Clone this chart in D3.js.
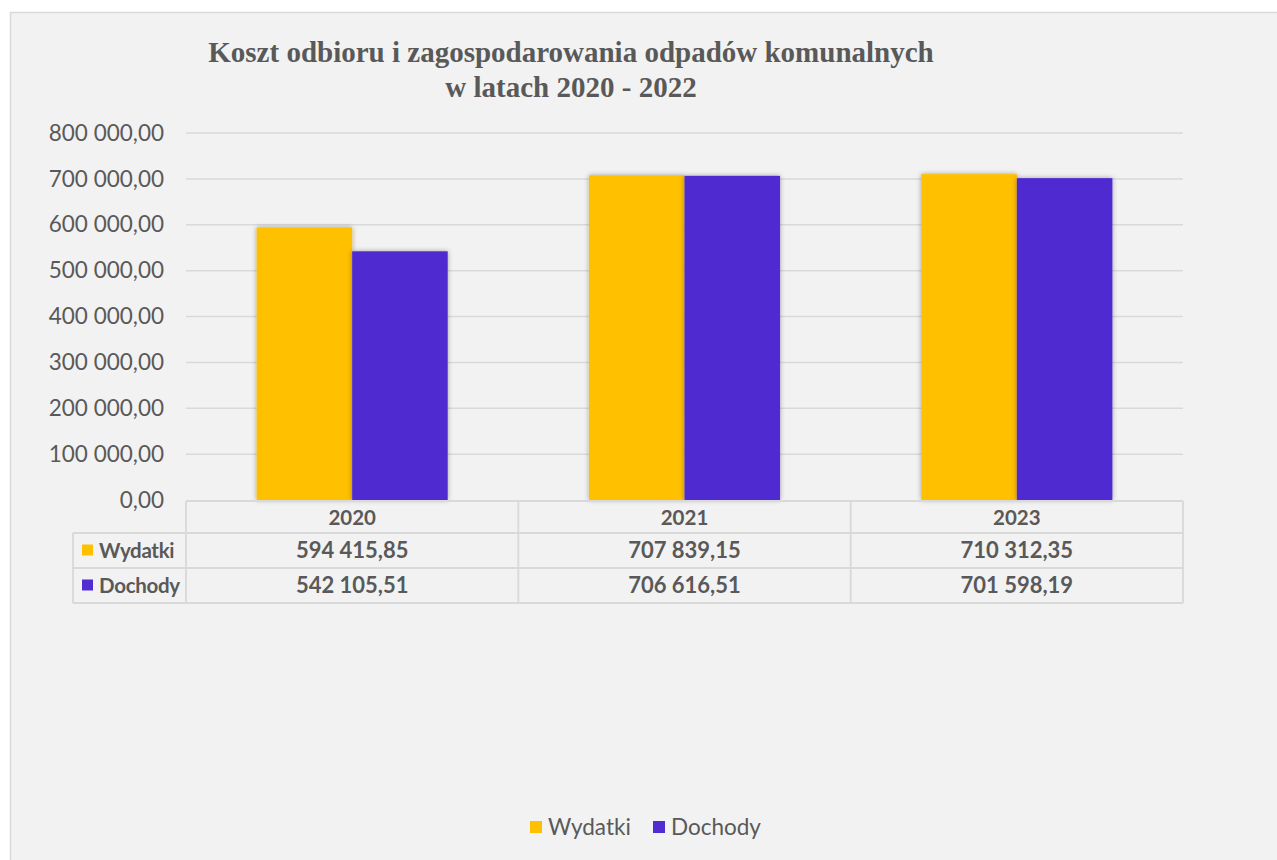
<!DOCTYPE html>
<html>
<head>
<meta charset="utf-8">
<script src="https://cdn.jsdelivr.net/npm/d3@7"></script>
<style>
  body { margin: 0; background: #ffffff; }
  svg { display: block; }
</style>
</head>
<body>
<script>
// chart data
const years = ["2020", "2021", "2023"];
const seriesNames = ["Wydatki", "Dochody"];
const wydatki = [594415.85, 707839.15, 710312.35];
const dochody = [542105.51, 706616.51, 701598.19];
const yTicks = [0, 100000, 200000, 300000, 400000, 500000, 600000, 700000, 800000];
const titleLines = ["Koszt odbioru i zagospodarowania odpadów komunalnych", "w latach 2020 - 2022"];

const colors = { "Wydatki": "#FFC000", "Dochody": "#502CD1" };
const textColor = "#595959";
const gridColor = "#D9D9D9";
const sansFont = "'Lato', 'Open Sans', sans-serif";

const W = 1277, H = 860;
const plot = { left: 186, right: 1183, top: 133, bottom: 500 };

// polish number format: space thousands, comma decimals
const pl = d3.formatLocale({ decimal: ",", thousands: " ", grouping: [3], currency: ["", " zł"] });
const fmt = pl.format(",.2f");

const svg = d3.select("body").append("svg")
    .attr("width", W)
    .attr("height", H);

// drop shadow for bars
const defs = svg.append("defs");
const filt = defs.append("filter").attr("id", "shadow")
    .attr("x", "-20%").attr("y", "-20%").attr("width", "140%").attr("height", "140%");
filt.append("feDropShadow")
    .attr("dx", 0).attr("dy", 0).attr("stdDeviation", 2.5)
    .attr("flood-color", "#000").attr("flood-opacity", 0.35);

// chart area background and frame
svg.append("rect")
    .attr("x", 10.5).attr("y", 12.5)
    .attr("width", W + 10).attr("height", H + 10)
    .attr("fill", "#F2F2F2")
    .attr("stroke", gridColor)
    .attr("stroke-width", 1.5);

// title
svg.append("g").selectAll("text")
    .data(titleLines)
    .join("text")
    .attr("x", 571)
    .attr("y", (d, i) => 62 + i * 35)
    .attr("text-anchor", "middle")
    .attr("font-family", "'Liberation Serif', 'Times New Roman', serif")
    .attr("font-weight", "bold")
    .attr("font-size", 29)
    .attr("fill", textColor)
    .text(d => d);

// scales
const x = d3.scaleBand()
    .domain(years)
    .range([plot.left, plot.right])
    .paddingInner(0.425)
    .paddingOuter(0.2125);

const xInner = d3.scaleBand()
    .domain(seriesNames)
    .range([0, x.bandwidth()]);

const y = d3.scaleLinear()
    .domain([0, 800000])
    .range([plot.bottom, plot.top]);

// gridlines
svg.append("g")
    .selectAll("line")
    .data(yTicks.filter(d => d > 0))
    .join("line")
    .attr("x1", plot.left).attr("x2", plot.right)
    .attr("y1", d => y(d)).attr("y2", d => y(d))
    .attr("stroke", gridColor)
    .attr("stroke-width", 1.5);

// y axis
const yAxis = svg.append("g")
    .attr("transform", "translate(" + (plot.left - 22) + ",0)")
    .call(d3.axisLeft(y).tickValues(yTicks).tickFormat(fmt).tickSize(0).tickPadding(0));
yAxis.select(".domain").remove();
yAxis.selectAll("text")
    .attr("font-family", sansFont)
    .attr("font-size", 22.5)
    .attr("fill", textColor);

// bars
const barData = [];
years.forEach((yr, i) => {
    barData.push({ year: yr, series: "Wydatki", value: wydatki[i] });
    barData.push({ year: yr, series: "Dochody", value: dochody[i] });
});

svg.append("g")
    .selectAll("rect")
    .data(barData)
    .join("rect")
    .attr("x", d => x(d.year) + xInner(d.series))
    .attr("y", d => y(d.value))
    .attr("width", xInner.bandwidth())
    .attr("height", d => y(0) - y(d.value))
    .attr("fill", d => colors[d.series])
    .attr("filter", "url(#shadow)");

// data table under the chart
const colW = (plot.right - plot.left) / years.length;
const rowTop = [501, 533, 568, 603];
const labelLeft = 73;
const table = svg.append("g")
    .attr("stroke", gridColor)
    .attr("stroke-width", 1.8)
    .attr("fill", "none");

// horizontal lines
table.append("line").attr("x1", plot.left).attr("x2", plot.right).attr("y1", rowTop[0]).attr("y2", rowTop[0]);
[1, 2, 3].forEach(r => {
    table.append("line").attr("x1", labelLeft).attr("x2", plot.right).attr("y1", rowTop[r]).attr("y2", rowTop[r]);
});
// vertical lines
table.append("line").attr("x1", labelLeft).attr("x2", labelLeft).attr("y1", rowTop[1]).attr("y2", rowTop[3]);
d3.range(years.length + 1).forEach(c => {
    const xx = plot.left + c * colW;
    table.append("line").attr("x1", xx).attr("x2", xx).attr("y1", rowTop[0]).attr("y2", rowTop[3]);
});

const tableText = svg.append("g")
    .attr("font-family", sansFont)
    .attr("font-weight", "bold")
    .attr("fill", textColor);

// header row
tableText.selectAll("text.hdr")
    .data(years)
    .join("text")
    .attr("class", "hdr")
    .attr("x", d => x(d) + x.bandwidth() / 2)
    .attr("y", (rowTop[0] + rowTop[1]) / 2 + 1)
    .attr("dy", "0.35em")
    .attr("font-size", 20.5)
    .attr("text-anchor", "middle")
    .text(d => d);

// value rows
[wydatki, dochody].forEach((vals, r) => {
    const cy = (rowTop[r + 1] + rowTop[r + 2]) / 2;
    tableText.append("g").selectAll("text")
        .data(vals)
        .join("text")
        .attr("x", (d, i) => x(years[i]) + x.bandwidth() / 2)
        .attr("y", cy)
        .attr("dy", "0.35em")
        .attr("font-size", 22)
        .attr("text-anchor", "middle")
        .text(d => fmt(d));

    svg.append("rect")
        .attr("x", 82).attr("y", cy - 6)
        .attr("width", 11).attr("height", 11)
        .attr("fill", colors[seriesNames[r]]);
    tableText.append("text")
        .attr("x", 99)
        .attr("y", cy)
        .attr("dy", "0.35em")
        .attr("font-size", 20.5)
        .attr("letter-spacing", -0.3)
        .text(seriesNames[r]);
});

// legend
const legend = svg.append("g")
    .selectAll("g")
    .data(seriesNames)
    .join("g")
    .attr("transform", (d, i) => "translate(" + (530 + i * 123) + ",821)");
legend.append("rect")
    .attr("width", 12).attr("height", 12)
    .attr("fill", d => colors[d]);
legend.append("text")
    .attr("x", 18)
    .attr("y", 6)
    .attr("dy", "0.35em")
    .attr("font-family", sansFont)
    .attr("font-size", 22.5)
    .attr("fill", textColor)
    .text(d => d);
</script>
</body>
</html>
